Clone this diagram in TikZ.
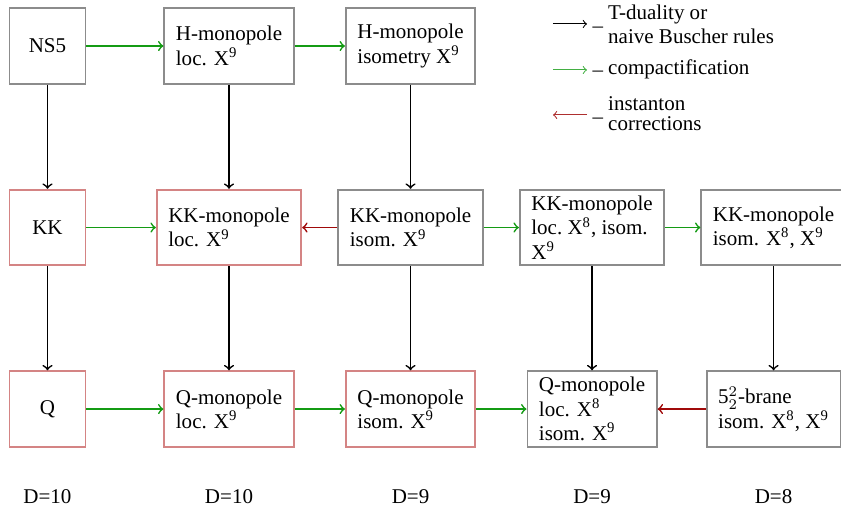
\documentclass[tikz,border=0pt]{standalone}
\usepackage{fontspec}
\setmainfont{Liberation Serif}
\usetikzlibrary{positioning}
\definecolor{boxgray}{RGB}{140,140,140}
\definecolor{boxred}{RGB}{212,132,132}
\definecolor{compgreen}{RGB}{20,155,20}
\definecolor{instred}{RGB}{160,10,10}

\begin{document}
\begin{tikzpicture}[
    font=\fontsize{10}{11.6}\selectfont,
    node distance=86.4pt, on grid,
    brane/.style={draw=boxgray, line width=0.85pt, align=left,
      inner xsep=5.5pt, inner ysep=1.5pt,
      minimum width=36.2pt, minimum height=36pt},
    corrected/.style={brane, draw=boxred},
    tdual/.style={->, line width=0.8pt},
    compact/.style={->, line width=0.8pt, compgreen},
    instanton/.style={->, line width=0.8pt, instred},
    legendtext/.style={align=left, inner sep=0pt, anchor=west},
  ]
  \useasboundingbox (0,0) rectangle (400.3pt,-241.3pt);

  % D=10 and D=9 sources
  \node[brane] (ns5) at (22.6pt,-21.9pt) {NS5};
  \node[brane, right=of ns5] (hloc) {H-monopole\\loc. X\textsuperscript{9}};
  \node[brane, right=of hloc] (hiso) {H-monopole\\isometry X\textsuperscript{9}};

  \node[corrected, below=of ns5] (kk) {KK};
  \node[corrected, right=of kk] (kkloc) {KK-monopole\\loc. X\textsuperscript{9}};
  \node[brane, right=of kkloc] (kkiso) {KK-monopole\\isom. X\textsuperscript{9}};
  \node[brane, right=of kkiso] (kkeight) {KK-monopole\\loc.\ X\textsuperscript{8}, isom.\\X\textsuperscript{9}};
  \node[brane, right=of kkeight] (kkboth) {KK-monopole\\isom. X\textsuperscript{8}, X\textsuperscript{9}};

  \node[corrected, below=of kk] (q) {Q};
  \node[corrected, right=of q] (qloc) {Q-monopole\\loc. X\textsuperscript{9}};
  \node[corrected, right=of qloc] (qiso) {Q-monopole\\isom. X\textsuperscript{9}};
  \node[brane, right=of qiso] (qeight) {Q-monopole\\loc. X\textsuperscript{8}\\isom. X\textsuperscript{9}};
  \node[brane, right=of qeight] (exotic) {5$^{2}_{2}$-brane\\isom. X\textsuperscript{8}, X\textsuperscript{9}};

  % dimensions
  \node[below=41.5pt of q, inner sep=1pt] (dq) {D=10};
  \node[below=41.5pt of qloc, inner sep=1pt] (dqloc) {D=10};
  \node[below=41.5pt of qiso, inner sep=1pt] (dqiso) {D=9};
  \node[below=41.5pt of qeight, inner sep=1pt] (dqeight) {D=9};
  \node[below=41.5pt of exotic, inner sep=1pt] (dexotic) {D=8};

  \draw[compact] (ns5) -- (hloc);
  \draw[compact] (hloc) -- (hiso);
  \draw[compact] (kk) -- (kkloc);
  \draw[instanton] (kkiso) -- (kkloc);
  \draw[compact] (kkiso) -- (kkeight);
  \draw[compact] (kkeight) -- (kkboth);
  \draw[compact] (q) -- (qloc);
  \draw[compact] (qloc) -- (qiso);
  \draw[compact] (qiso) -- (qeight);
  \draw[instanton] (exotic) -- (qeight);

  \draw[tdual] (ns5) -- (kk);
  \draw[tdual] (hloc) -- (kkloc);
  \draw[tdual] (hiso) -- (kkiso);
  \draw[tdual] (kk) -- (q);
  \draw[tdual] (kkloc) -- (qloc);
  \draw[tdual] (kkiso) -- (qiso);
  \draw[tdual] (kkeight) -- (qeight);
  \draw[tdual] (kkboth) -- (exotic);

  % legend
  \coordinate (tdtail) at (263.2pt,-11.4pt);
  \coordinate (tdhead) at (279.4pt,-11.4pt);
  \coordinate (comptail) at (263.2pt,-33.3pt);
  \coordinate (comphead) at (279.4pt,-33.3pt);
  \coordinate (insttail) at (279.4pt,-54.7pt);
  \coordinate (insthead) at (263.2pt,-54.7pt);
  \node (tddash) at (284.6pt,-14.2pt) {–};
  \node (compdash) at (284.6pt,-35.3pt) {–};
  \node (instdash) at (284.6pt,-57.5pt) {–};
  \node[legendtext] (tdtext) at (289.3pt,-11.65pt) {T-duality or\\naive Buscher rules};
  \node[legendtext] (comptext) at (289.3pt,-32.9pt) {compactification};
  \node[legendtext] (insttext) at (289.3pt,-54.2pt) {instanton\\[-2pt]corrections};
  \draw[tdual, line width=0.5pt] (tdtail) -- (tdhead);
  \draw[compact, line width=0.5pt, compgreen!80] (comptail) -- (comphead);
  \draw[instanton, line width=0.5pt, instred!85] (insttail) -- (insthead);
\end{tikzpicture}
\end{document}
